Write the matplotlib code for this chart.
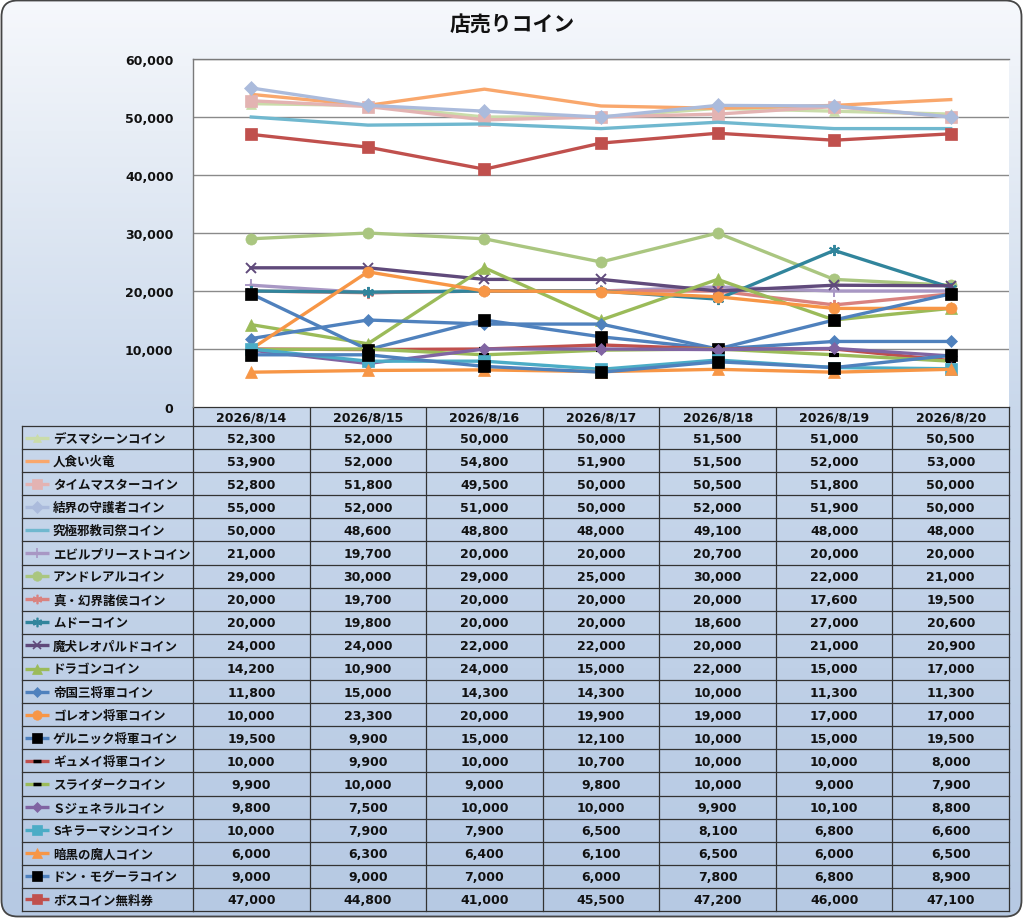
import numpy as np
import matplotlib
matplotlib.use('Agg')
import matplotlib.pyplot as plt
from matplotlib.patches import FancyBboxPatch
from matplotlib.colors import LinearSegmentedColormap
import matplotlib.transforms as mtrans
from matplotlib.ticker import FuncFormatter

plt.rcParams['font.family'] = ['Noto Sans CJK JP', 'DejaVu Sans']

title = '店売りコイン'
dates = ['2026/8/14', '2026/8/15', '2026/8/16', '2026/8/17', '2026/8/18', '2026/8/19', '2026/8/20']

names = ['デスマシーンコイン', '人食い火竜', 'タイムマスターコイン', '結界の守護者コイン',
         '究極邪教司祭コイン', 'エビルプリーストコイン', 'アンドレアルコイン', '真・幻界諸侯コイン',
         'ムドーコイン', '魔犬レオパルドコイン', 'ドラゴンコイン', '帝国三将軍コイン',
         'ゴレオン将軍コイン', 'ゲルニック将軍コイン', 'ギュメイ将軍コイン', 'スライダークコイン',
         'Ｓジェネラルコイン', 'Sキラーマシンコイン', '暗黒の魔人コイン', 'ドン・モグーラコイン',
         'ボスコイン無料券']

death_machine = [52300, 52000, 50000, 50000, 51500, 51000, 50500]
man_eater = [53900, 52000, 54800, 51900, 51500, 52000, 53000]
time_master = [52800, 51800, 49500, 50000, 50500, 51800, 50000]
barrier_guard = [55000, 52000, 51000, 50000, 52000, 51900, 50000]
high_priest = [50000, 48600, 48800, 48000, 49100, 48000, 48000]
evil_priest = [21000, 19700, 20000, 20000, 20700, 20000, 20000]
andreal = [29000, 30000, 29000, 25000, 30000, 22000, 21000]
phantom_lords = [20000, 19700, 20000, 20000, 20000, 17600, 19500]
mudo = [20000, 19800, 20000, 20000, 18600, 27000, 20600]
leopard = [24000, 24000, 22000, 22000, 20000, 21000, 20900]
dragon = [14200, 10900, 24000, 15000, 22000, 15000, 17000]
three_generals = [11800, 15000, 14300, 14300, 10000, 11300, 11300]
goleon = [10000, 23300, 20000, 19900, 19000, 17000, 17000]
gelnic = [19500, 9900, 15000, 12100, 10000, 15000, 19500]
gyumei = [10000, 9900, 10000, 10700, 10000, 10000, 8000]
slidark = [9900, 10000, 9000, 9800, 10000, 9000, 7900]
s_general = [9800, 7500, 10000, 10000, 9900, 10100, 8800]
s_killer = [10000, 7900, 7900, 6500, 8100, 6800, 6600]
dark_demon = [6000, 6300, 6400, 6100, 6500, 6000, 6500]
don_mogura = [9000, 9000, 7000, 6000, 7800, 6800, 8900]
boss_ticket = [47000, 44800, 41000, 45500, 47200, 46000, 47100]

series = [death_machine, man_eater, time_master, barrier_guard, high_priest, evil_priest,
          andreal, phantom_lords, mudo, leopard, dragon, three_generals, goleon, gelnic,
          gyumei, slidark, s_general, s_killer, dark_demon, don_mogura, boss_ticket]

AST = (6, 2, 0)
line_colors = ['#cadcaa', '#f9a76c', '#e3b3b2', '#abbbdc', '#70b8cf', '#a897c4', '#aac680',
               '#d9827f', '#31859c', '#604a7b', '#9bbb59', '#4f81bd', '#f79646', '#4f81bd',
               '#c0504d', '#9bbb59', '#8064a2', '#4bacc6', '#f79646', '#4f81bd', '#c0504d']
markers = ['^', None, 's', 'D', None, '+', 'o', AST, AST, 'x', '^', 'D', 'o', 's',
           '_', '_', 'D', 's', '^', 's', 's']
marker_colors = ['#cadcaa', None, '#e3b3b2', '#abbbdc', None, '#a897c4', '#aac680',
                 '#d9827f', '#31859c', '#604a7b', '#9bbb59', '#4f81bd', '#f79646', '#000000',
                 '#000000', '#000000', '#8064a2', '#4bacc6', '#f79646', '#000000', '#c0504d']
marker_sizes = [7, 0, 8, 7, 0, 8, 8, 8, 8, 7, 8, 6, 8, 8, 7, 7, 6, 8, 8, 8, 8]

W, H = 1024, 920
fig = plt.figure(figsize=(W / 100, H / 100), dpi=100)

# background
bg = fig.add_axes([0, 0, 1, 1])
bg.set_xlim(0, W)
bg.set_ylim(H, 0)
bg.axis('off')
bg.set_zorder(0)
cmap = LinearSegmentedColormap.from_list(
    'g', [(0.0, '#f6f8fc'), (130 / 920, '#e8eef6'), (420 / 920, '#c8d7eb'), (1.0, '#b6c9e3')])
grad = np.linspace(0, 1, 512).reshape(-1, 1)
im = bg.imshow(grad, extent=[0, W, H, 0], aspect='auto', cmap=cmap, zorder=0,
               interpolation='bilinear')
frame = FancyBboxPatch((1.5, 1.5), W - 4, H - 4, boxstyle='round,pad=0,rounding_size=16',
                       ec='#454545', fc='none', lw=1.3, zorder=5)
bg.add_patch(frame)
im.set_clip_path(frame)

bg.text(W / 2, 25, title, ha='center', va='center', fontsize=15, fontweight='bold',
        color='#111111')

# plot area
px_left, px_right, px_top, px_bot = 193, 1009, 60, 408
ax = fig.add_axes([px_left / W, 1 - px_bot / H, (px_right - px_left) / W, (px_bot - px_top) / H])
ax.set_zorder(2)
ax.set_facecolor('white')
x = np.arange(len(dates))
for i, vals in enumerate(series):
    m = markers[i]
    kw = dict(color=line_colors[i], lw=2.4, zorder=3 + i * 0.01)
    if m is not None:
        mew = 1.4 if m in ('+', 'x', AST) else (3 if m == '_' else 0.5)
        kw.update(marker=m, ms=marker_sizes[i], mfc=marker_colors[i], mec=marker_colors[i], mew=mew)
    ax.plot(x, vals, **kw)
ax.set_xlim(-0.5, len(dates) - 0.5)
ax.set_ylim(0, 60000)
ax.set_yticks(np.arange(0, 60001, 10000))
ax.yaxis.set_major_formatter(FuncFormatter(lambda v, p: f'{int(v):,}'))
ax.set_xticks([])
ax.tick_params(axis='y', length=0, pad=14, labelsize=9, labelcolor='#111111')
for lab in ax.get_yticklabels():
    lab.set_family('DejaVu Sans')
    lab.set_fontweight('bold')
ax.yaxis.grid(True, color='#8a8a8a', lw=1)
ax.set_axisbelow(True)
for s in ('right', 'bottom'):
    ax.spines[s].set_visible(False)
for s in ('left', 'top'):
    ax.spines[s].set_color('#7a7a7a')
    ax.spines[s].set_linewidth(1)

# data table
tr = mtrans.blended_transform_factory(ax.transData, bg.transData)
line_c = '#333333'
head_top, head_bot = 408, 427
row_h = (912 - head_bot) / len(series)
bounds = np.arange(len(dates) + 1) - 0.5
n = len(series)
table_bot = head_bot + n * row_h
# header
bg.plot([bounds[0], bounds[-1]], [head_top, head_top], transform=tr, color=line_c, lw=0.9, clip_on=False, zorder=4)
for b in bounds:
    bg.plot([b, b], [head_top, table_bot], transform=tr, color=line_c, lw=0.9, clip_on=False, zorder=4)
for j, d in enumerate(dates):
    bg.text(x[j], (head_top + head_bot) / 2 + 0.5, d, transform=tr, ha='center', va='center',
            fontsize=9, family='DejaVu Sans', fontweight='bold', color='#111111', zorder=6)
# rows
label_left = 22
for r in range(n + 1):
    yy = head_bot + r * row_h
    bg.plot([label_left, px_left], [yy, yy], color=line_c, lw=0.9, clip_on=False, zorder=4)
    bg.plot([bounds[0], bounds[-1]], [yy, yy], transform=tr, color=line_c, lw=0.9, clip_on=False, zorder=4)
bg.plot([label_left, label_left], [head_bot, table_bot], color=line_c, lw=0.9, zorder=4)
for r, vals in enumerate(series):
    yc = head_bot + (r + 0.5) * row_h
    m = markers[r]
    bg.plot([25, 49], [yc, yc], color=line_colors[r], lw=2.4, zorder=6, solid_capstyle='butt')
    if m is not None:
        mew = 1.2 if m in ('+', 'x', AST) else (2.5 if m == '_' else 0.5)
        bg.plot([37], [yc], marker=m, ms=marker_sizes[r] * 0.85, mfc=marker_colors[r],
                mec=marker_colors[r], mew=mew, zorder=7, ls='none')
    bg.text(53, yc + 0.5, names[r], ha='left', va='center', fontsize=9, fontweight='bold',
            color='#111111', zorder=6)
    for j, v in enumerate(vals):
        bg.text(x[j], yc + 0.5, f'{v:,}', transform=tr, ha='center', va='center',
                fontsize=9, family='DejaVu Sans', fontweight='bold', color='#111111', zorder=6)

fig.savefig('out.png', dpi=100)
